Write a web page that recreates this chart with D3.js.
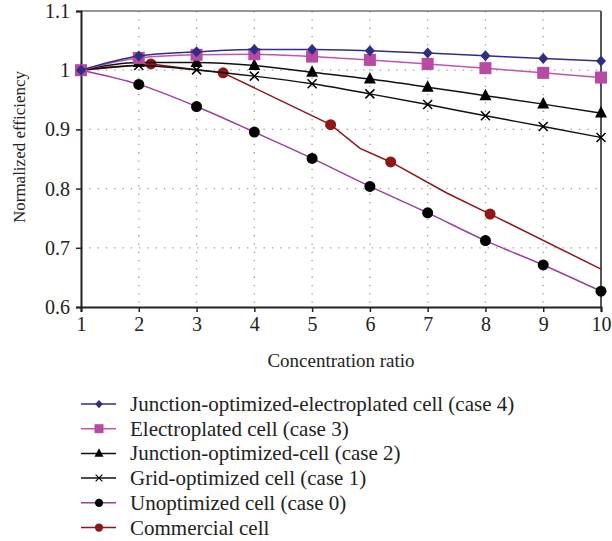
<!DOCTYPE html>
<html>
<head>
<meta charset="utf-8">
<script src="https://cdn.jsdelivr.net/npm/d3@7"></script>
<style>
  body { margin: 0; background: #fff; }
  svg text { font-family: "Liberation Serif", "DejaVu Serif", serif; }
  .grid line { stroke: #999; stroke-width: 1.3; stroke-dasharray: 1.3 7; }
</style>
</head>
<body>
<div class="chart"></div>
<script>
// concentration ratio
const ratios = [1, 2, 3, 4, 5, 6, 7, 8, 9, 10];
const case4 = [1.0, 1.024, 1.031, 1.035, 1.035, 1.033, 1.029, 1.0246, 1.0196, 1.0157];
const case3 = [1.0, 1.0207, 1.026, 1.027, 1.023, 1.0174, 1.0106, 1.0034, 0.9955, 0.9876];
const case2 = [1.0, 1.0128, 1.013, 1.008, 0.9966, 0.985, 0.9713, 0.957, 0.9427, 0.9275];
const case1 = [1.0, 1.008, 1.0005, 0.990, 0.977, 0.960, 0.942, 0.923, 0.905, 0.8864];
const case0 = [1.0, 0.976, 0.9386, 0.8954, 0.851, 0.8037, 0.759, 0.7122, 0.671, 0.6267];
// commercial cell: traced line and its markers
const commercialLineX = [1, 2.21, 3.46, 5.32, 5.83, 6.36, 7.33, 8.08, 10];
const commercialLineY = [1.0, 1.0106, 0.9955, 0.908, 0.868, 0.845, 0.7926, 0.757, 0.664];
const commercialMarkX = [1, 2.21, 3.46, 5.32, 6.36, 8.08];
const commercialMarkY = [1.0, 1.0106, 0.9955, 0.908, 0.845, 0.757];

const xTicks = [1, 2, 3, 4, 5, 6, 7, 8, 9, 10];
const yTicks = [0.6, 0.7, 0.8, 0.9, 1.0, 1.1];
const yTickLabels = ['0.6', '0.7', '0.8', '0.9', '1', '1.1'];

const serif = '"Liberation Serif", "DejaVu Serif", serif';
const width = 612, height = 541;
const margin = { left: 81, top: 11, right: 11, bottom: 234 };
const w = width - margin.left - margin.right;
const h = height - margin.top - margin.bottom;

const x = d3.scaleLinear().domain([1, 10]).range([0, w]);
const y = d3.scaleLinear().domain([0.6, 1.1]).range([h, 0]);

const svg = d3.select('.chart').append('svg')
	.attr('width', width)
	.attr('height', height)
	.attr('font-family', serif);
const g = svg.append('g')
	.attr('transform', 'translate(' + margin.left + ',' + margin.top + ')');

// dotted grid
const grid = g.append('g').classed('grid', true);
grid.selectAll('line.v')
	.data(xTicks.slice(1, -1))
	.enter().append('line')
	.attr('x1', d => x(d)).attr('x2', d => x(d))
	.attr('y1', 0).attr('y2', h);
grid.selectAll('line.h')
	.data(yTicks.slice(1, -1))
	.enter().append('line')
	.attr('y1', d => y(d)).attr('y2', d => y(d))
	.attr('x1', 0).attr('x2', w);

// frame top/right
g.append('line').attr('x1', 0).attr('x2', w).attr('y1', 0).attr('y2', 0)
	.attr('stroke', '#333').attr('stroke-width', 1.2);
g.append('line').attr('x1', w).attr('x2', w).attr('y1', 0).attr('y2', h)
	.attr('stroke', '#555').attr('stroke-width', 2);

// axes
const xAxis = d3.axisBottom(x).tickValues(xTicks).tickSize(5).tickPadding(5).tickFormat(d3.format('d'));
const yAxis = d3.axisLeft(y).tickValues(yTicks).tickSize(5).tickPadding(6)
	.tickFormat((d, i) => yTickLabels[i]);

const gx = g.append('g').attr('transform', 'translate(0,' + h + ')').call(xAxis);
const gy = g.append('g').call(yAxis);
[gx, gy].forEach(a => {
	a.attr('font-family', serif).attr('font-size', 20);
	a.select('.domain').attr('stroke', '#222').attr('stroke-width', 2);
	a.selectAll('.tick line').attr('stroke', '#222').attr('stroke-width', 1.5);
	a.selectAll('.tick text').attr('fill', '#222').style('font-family', serif).style('font-size', '20px');
});

// axis titles
svg.append('text')
	.attr('x', margin.left + w / 2).attr('y', 367)
	.attr('text-anchor', 'middle').style('font-size', '19px').attr('fill', '#222')
	.text('Concentration ratio');
svg.append('text')
	.attr('transform', 'translate(25,147) rotate(-90)')
	.attr('text-anchor', 'middle').style('font-size', '17px').attr('fill', '#222')
	.text('Normalized efficiency');

const series = [
	{ name: 'Junction-optimized-electroplated cell (case 4)', ys: case4, line: '#2e2e86', mark: '#2e2e86', sym: 'diamond' },
	{ name: 'Electroplated cell (case 3)', ys: case3, line: '#c455ad', mark: '#b84aa3', sym: 'square' },
	{ name: 'Junction-optimized-cell (case 2)', ys: case2, line: '#111', mark: '#000', sym: 'triangle' },
	{ name: 'Grid-optimized cell (case 1)', ys: case1, line: '#111', mark: '#000', sym: 'cross' },
	{ name: 'Unoptimized cell (case 0)', ys: case0, line: '#9a3ea0', mark: '#000', sym: 'circle' },
	{ name: 'Commercial cell', ys: null, line: '#8e1717', mark: '#8e1717', sym: 'circle' }
];

function drawMarker(sel, sym, color) {
	if (sym === 'diamond') {
		sel.append('path').attr('d', 'M0,-5.5L5,0L0,5.5L-5,0Z').attr('fill', color);
	} else if (sym === 'square') {
		sel.append('rect').attr('x', -6).attr('y', -6).attr('width', 12).attr('height', 12).attr('fill', color);
	} else if (sym === 'triangle') {
		sel.append('path').attr('d', 'M0,-7L6,4.5L-6,4.5Z').attr('fill', color);
	} else if (sym === 'cross') {
		sel.append('path').attr('d', 'M-4.5,-4.5L4.5,4.5M-4.5,4.5L4.5,-4.5')
			.attr('stroke', color).attr('stroke-width', 1.5).attr('fill', 'none');
	} else {
		sel.append('circle').attr('r', 5.5).attr('fill', color);
	}
}

const smooth = d3.line().x(d => x(d[0])).y(d => y(d[1])).curve(d3.curveMonotoneX);
const straight = d3.line().x(d => x(d[0])).y(d => y(d[1]));

// draw in reverse order so case 4 ends on top
series.slice().reverse().forEach(s => {
	let lineData, markData;
	if (s.ys) {
		lineData = ratios.map((r, i) => [r, s.ys[i]]);
		markData = lineData;
	} else {
		lineData = commercialLineX.map((r, i) => [r, commercialLineY[i]]);
		markData = commercialMarkX.map((r, i) => [r, commercialMarkY[i]]);
	}
	g.append('path').datum(lineData)
		.attr('d', s.ys ? smooth : straight)
		.attr('fill', 'none').attr('stroke', s.line).attr('stroke-width', 1.5);
	g.selectAll(null).data(markData).enter().append('g')
		.attr('transform', d => 'translate(' + x(d[0]) + ',' + y(d[1]) + ')')
		.each(function () { drawMarker(d3.select(this), s.sym, s.mark); });
});

// legend
const legend = svg.append('g').attr('transform', 'translate(81,404)');
series.forEach((s, i) => {
	const row = legend.append('g').attr('transform', 'translate(0,' + (i * 24.7) + ')');
	row.append('line').attr('x1', 0).attr('x2', 35).attr('y1', 0).attr('y2', 0)
		.attr('stroke', s.line).attr('stroke-width', 1.5);
	const m = row.append('g').attr('transform', 'translate(18,0) scale(0.75)');
	drawMarker(m, s.sym, s.mark);
	row.append('text').attr('x', 49).attr('y', 7).style('font-size', '21px').attr('fill', '#222')
		.text(s.name);
});
</script>
</body>
</html>
